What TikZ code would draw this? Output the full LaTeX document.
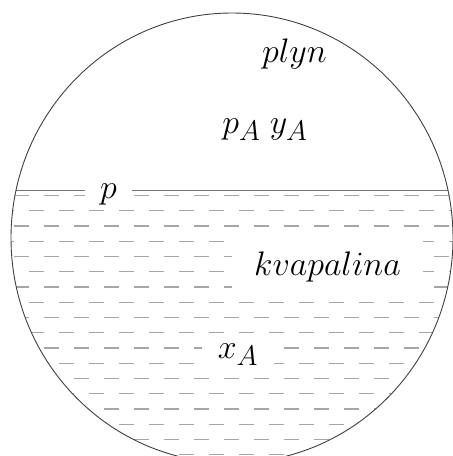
\documentclass[tikz,border=0pt]{standalone}
\usepackage{graphicx}
\usepackage{tikz}

\newcommand{\phasemath}[1]{\scalebox{1.3666}{\Huge$#1$}}

\begin{document}
\begin{tikzpicture}[x=1pt, y=-1pt,
        vessel/.style={draw=black!75, line width=0.9pt},
        interface/.style={draw=black!55, line width=1.4pt},
        hatchline/.style={draw=black!35, line width=1.2pt, dash pattern=on 15pt off 15pt},
        phasetext/.style={inner sep=0pt, anchor=base},
        masked/.style={fill=white, inner xsep=18pt, inner ysep=10pt}
    ]
        \useasboundingbox (0,0) rectangle (453,456);

        % hatching of the liquid, kept inside the vessel
        \begin{scope}
            \clip (232,238) ellipse [x radius=221pt, y radius=225pt];
            \foreach \k in {0,2,...,16}
                \draw[hatchline] (-16,195.5+15.25*\k) -- (470,195.5+15.25*\k);
            \foreach \k in {1,3,...,17}
                \draw[hatchline] (-1,195.5+15.25*\k) -- (470,195.5+15.25*\k);
        \end{scope}

        \coordinate (lineleft) at (15.9,190.7);
        \coordinate (lineright) at (448.1,190.7);

        \node[phasetext] (gas) at (294.5,62) {\phasemath{plyn}};
        \node[phasetext] (gascomp) at (265,133) {\phasemath{p_A\;y_A}};
        \node[phasetext, masked, inner xsep=22pt, inner ysep=12pt] (liquid) at (327.5,275) {\phasemath{kvapalina}};
        \node[phasetext, masked, inner xsep=16pt, inner ysep=5pt] (liqcomp) at (238,358) {\phasemath{x_A}};
        \node[phasetext, fill=white, inner xsep=15pt, inner ysep=2pt] (ptext) at (108.5,198) {\phasemath{p}};

        \draw[interface] (lineleft) -- (lineleft -| ptext.west);
        \draw[interface] (lineright -| ptext.east) -- (lineright);

        \draw[vessel] (232,238) ellipse [x radius=221pt, y radius=225pt];
    \end{tikzpicture}
\end{document}
